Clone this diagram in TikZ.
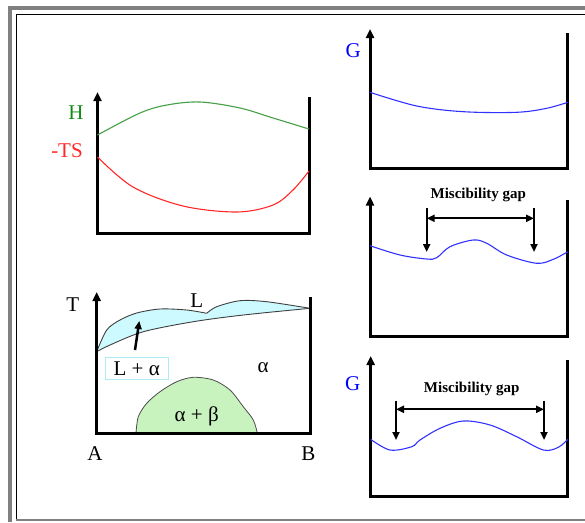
\documentclass[tikz,border=0pt]{standalone}
\usepackage{fontspec}
\setmainfont{Liberation Serif}
\usetikzlibrary{arrows.meta}
\definecolor{frgray}{RGB}{128,128,128}
\definecolor{hgreen}{RGB}{70,160,70}
\definecolor{hlabel}{RGB}{20,140,20}
\definecolor{tsred}{RGB}{255,40,40}
\definecolor{gblue}{RGB}{50,50,255}
\definecolor{glabel}{RGB}{0,0,255}
\definecolor{liqfill}{RGB}{204,250,255}
\definecolor{abfill}{RGB}{200,242,190}
\definecolor{boxcyan}{RGB}{170,235,245}
\tikzset{
  axisline/.style={line width=3pt, line join=miter, {Triangle[length=9pt,width=8pt]}-},
  curve/.style={line width=1.1pt, smooth, tension=0.55},
  lbl/.style={font=\fontsize{21}{21}\selectfont, inner sep=0pt},
  gaplbl/.style={font=\fontsize{15}{15}\selectfont\bfseries, inner sep=0pt},
  gaparrow/.style={line width=2pt, -{Triangle[length=8pt,width=7pt]}},
  gapboth/.style={line width=2pt, {Triangle[length=8pt,width=7pt]}-{Triangle[length=8pt,width=7pt]}},
  region/.style={draw=black!70, line width=0.8pt},
}
\begin{document}
\begin{tikzpicture}[x=1pt,y=-1pt]
\useasboundingbox (0,0) rectangle (585,522);
% frame
\fill[frgray] (8,6) rectangle (585,9.5);
\fill[frgray] (8,6) rectangle (12,522);
\draw[line width=1.5pt] (16.7,520) -- (16.7,14.7) -- (585,14.7);
\draw[frgray, line width=1.3pt] (16,520) -- (585,520);

% ---------- top-left: H and -TS ----------
\coordinate (hsA) at (97.5,92);
\coordinate (hsO) at (97.5,233);
\coordinate (hsX) at (309,233);
\coordinate (hsB) at (309,97);
\draw[axisline] (hsA) -- (hsO) -- (hsX) -- (hsB);
\draw[hgreen, curve] plot coordinates {(97.5,135) (140,113) (167,105) (200,102) (240,108) (273,118) (309,129)};
\draw[tsred, curve] plot coordinates {(97.5,157) (133,187) (183,206) (237,212) (273,205) (293,190) (309,171)};
\node[lbl, text=hlabel] (Hlab) at (76,113) {H};
\node[lbl, text=tsred] (TSlab) at (67,151) {-TS};

% ---------- bottom-left: phase diagram ----------
\coordinate (pdA) at (96.7,292);
\coordinate (pdO) at (96.7,433);
\coordinate (pdX) at (310,433);
\coordinate (pdB) at (310,297);
\fill[liqfill] plot[smooth, tension=0.5] coordinates {(96.7,351.7) (106.7,330) (120,320) (136.7,313) (160,309) (186.7,310) (206.7,313.3)}
  -- plot[smooth, tension=0.5] coordinates {(206.7,313.3) (216.7,306.7) (240,300.7) (266.7,301.7) (310,308.3)}
  -- plot[smooth, tension=0.5] coordinates {(310,308.3) (243.3,315) (193.3,321.7) (143.3,331.7) (110,345) (96.7,351.7)} -- cycle;
\draw[black!75, line width=0.9pt] plot[smooth, tension=0.5] coordinates {(96.7,351.7) (106.7,330) (120,320) (136.7,313) (160,309) (186.7,310) (206.7,313.3)};
\draw[black!75, line width=0.9pt] plot[smooth, tension=0.5] coordinates {(206.7,313.3) (216.7,306.7) (240,300.7) (266.7,301.7) (310,308.3)};
\draw[black!75, line width=0.9pt] plot[smooth, tension=0.5] coordinates {(310,308.3) (243.3,315) (193.3,321.7) (143.3,331.7) (110,345) (96.7,351.7)};
\filldraw[fill=abfill, region] plot[smooth, tension=0.5] coordinates {(136,433) (138.3,416.7) (146.7,403.3) (160,391.7) (176.7,381.7) (193.3,377.3) (213.3,380) (230,390) (243.3,406.7) (253.3,420) (257.3,433)};
\draw[axisline] (pdA) -- (pdO) -- (pdX) -- (pdB);
\node[draw=boxcyan, line width=1pt, minimum width=63pt, minimum height=22pt, inner sep=0pt, font=\fontsize{21}{21}\selectfont] (La) at (136.7,368.3) {L + α};
\coordinate (arrS) at (135,350);
\coordinate (arrE) at (139.3,321);
\draw[line width=2.5pt, -{Triangle[length=8pt,width=7pt]}] (arrS) -- (arrE);
\node[lbl] (Tlab) at (72.7,305) {T};
\node[lbl] (Llab) at (196.7,301) {L};
\node[lbl] (alab) at (263,368) {α};
\node[lbl] (ablab) at (196.7,416.7) {α + β};
\node[lbl] (Alab) at (95,454) {A};
\node[lbl] (Blab) at (308.3,454) {B};

% ---------- right top: G ----------
\coordinate (g1A) at (370,29);
\coordinate (g1O) at (370,168.3);
\coordinate (g1X) at (567.7,168.3);
\coordinate (g1B) at (567.7,32.7);
\draw[axisline] (g1A) -- (g1O) -- (g1X) -- (g1B);
\draw[gblue, curve] plot coordinates {(370,92.3) (416.7,106) (463.3,111.7) (516.7,112.3) (546.7,108.3) (567.7,102.3)};
\node[lbl, text=glabel] (G1) at (353.3,50.7) {G};

% ---------- right middle ----------
\coordinate (g2A) at (370,196.5);
\coordinate (g2O) at (370,336);
\coordinate (g2X) at (567.7,336);
\coordinate (g2B) at (567.7,200);
\draw[axisline] (g2A) -- (g2O) -- (g2X) -- (g2B);
\draw[gblue, curve] plot coordinates {(370,245.7) (400,255) (426.7,259) (436.7,257.7) (450,246.7) (473.3,240) (486.7,243.3) (506.7,255) (536.7,263.3) (553.3,259.3) (565,253.3) (567.7,251.7)};
\node[gaplbl] (gap2) at (478.3,195) {Miscibility gap};
\coordinate (m2L) at (426.7,208.3);
\coordinate (m2R) at (534,208.3);
\coordinate (m2Ld) at (426.7,252);
\coordinate (m2Rd) at (534,252);
\coordinate (m2Lh) at (426.7,218.3);
\coordinate (m2Rh) at (534,218.3);
\draw[gaparrow] (m2L) -- (m2Ld);
\draw[gaparrow] (m2R) -- (m2Rd);
\draw[gapboth] (m2Lh) -- (m2Rh);

% ---------- right bottom ----------
\coordinate (g3A) at (370.7,356);
\coordinate (g3O) at (370.7,496);
\coordinate (g3X) at (567.7,496);
\coordinate (g3B) at (567.7,360);
\draw[axisline] (g3A) -- (g3O) -- (g3X) -- (g3B);
\draw[gblue, curve] plot coordinates {(370.7,439.3) (390,450) (411.7,446.7) (420,440) (440,428.3) (463.3,421) (490,425) (516.7,436.7) (543.3,450) (558.3,447.3) (567.7,439.3)};
\node[lbl, text=glabel] (G3) at (352.7,383.3) {G};
\node[gaplbl] (gap3) at (471.7,389.3) {Miscibility gap};
\coordinate (m3L) at (396,400.7);
\coordinate (m3R) at (544,400.7);
\coordinate (m3Ld) at (396,440);
\coordinate (m3Rd) at (544,440);
\coordinate (m3Lh) at (396,409.3);
\coordinate (m3Rh) at (544,409.3);
\draw[gaparrow] (m3L) -- (m3Ld);
\draw[gaparrow] (m3R) -- (m3Rd);
\draw[gapboth] (m3Lh) -- (m3Rh);
\end{tikzpicture}
\end{document}
